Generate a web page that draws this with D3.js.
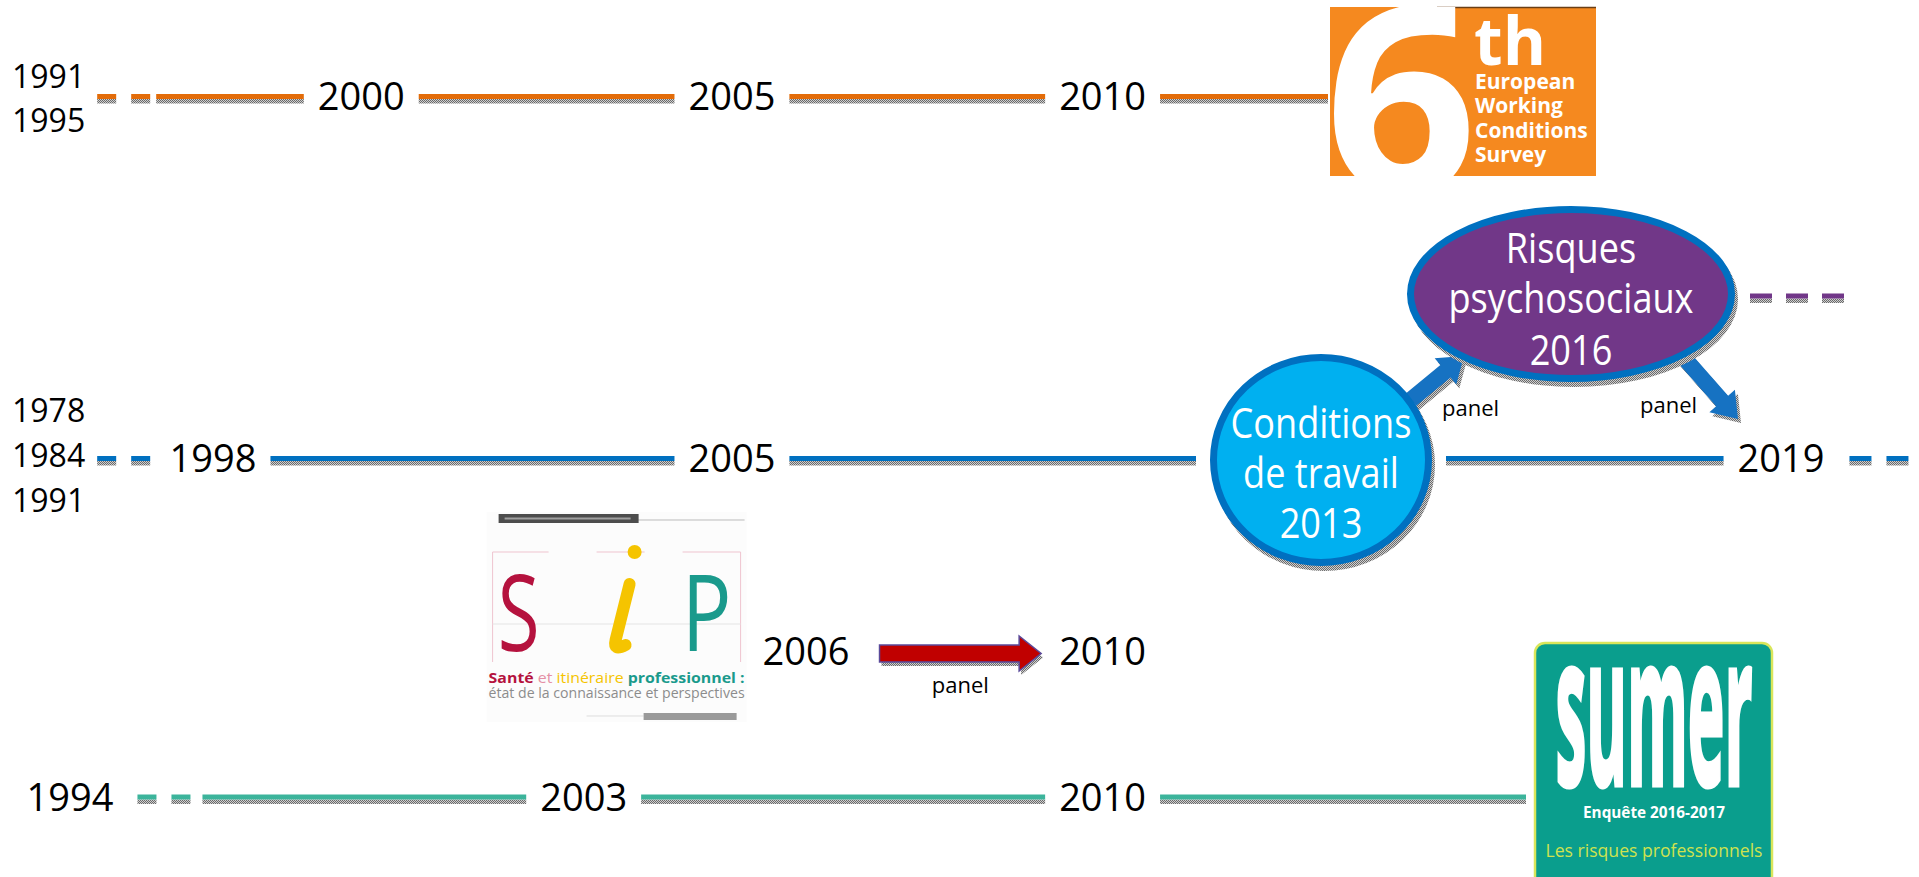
<!DOCTYPE html>
<html>
<head>
<meta charset="utf-8">
<script src="https://cdn.jsdelivr.net/npm/d3@7"></script>
<style>
body { margin: 0; background: #fff; overflow: hidden; }
text { font-family: "Open Sans", sans-serif; }
</style>
</head>
<body>
<div class="chart"></div>
<script>
// === Data ===
const ewcsEarly = ["1991", "1995"];
const ewcsYears = [2000, 2005, 2010];
const ctEarly = ["1978", "1984", "1991"];
const ctYears = [1998, 2005, 2019];
const ctWaves = [
    {year: 2013, lines: ["Conditions", "de travail", "2013"]},
    {year: 2016, lines: ["Risques", "psychosociaux", "2016"]}
];
const sipYears = [2006, 2010];
const sumerYears = [1994, 2003, 2010];
const panelLabel = "panel";
const ewcsLogo = ["th", "European", "Working", "Conditions", "Survey"];
const sumerLogo = ["sumer", "Enquête 2016-2017", "Les risques professionnels"];

// === Chart init ===
const width = 1919, height = 877;
const svg = d3.select(".chart").append("svg")
    .attr("width", width)
    .attr("height", height);

const defs = svg.append("defs");
const pat = defs.append("pattern").attr("id", "dots")
    .attr("width", 2).attr("height", 2).attr("patternUnits", "userSpaceOnUse");
pat.append("rect").attr("width", 2).attr("height", 2).attr("fill", "#cfcfcf");
pat.append("rect").attr("width", 1).attr("height", 1).attr("fill", "#6a6a6a");
pat.append("rect").attr("x", 1).attr("y", 1).attr("width", 1).attr("height", 1).attr("fill", "#6a6a6a");

// year scale (early years compressed)
const x = d3.scaleLinear()
    .domain([1994, 1998, 2013, 2019])
    .range([70, 213, 1325, 1781]);
const rowY = d3.scaleOrdinal()
    .domain(["ewcs", "ct", "sip", "sumer"])
    .range([96.5, 458.5, 651, 797]);

const colors = {ewcs: "#E36C09", ct: "#0070C0", sumer: "#3CB49B",
    purple: "#713788", circle: "#00B0F0", red: "#C00000"};

// === helpers ===
function seg(x1, x2, y, color) {
    if (x2 - x1 < 4) return;
    svg.append("rect").attr("x", x1).attr("y", y + 2.5)
        .attr("width", x2 - x1).attr("height", 4.5).attr("fill", "url(#dots)");
    svg.append("rect").attr("x", x1).attr("y", y - 2.5)
        .attr("width", x2 - x1).attr("height", 5).attr("fill", color);
}
function dashes(x0, n, len, gap, y, color) {
    let xx = x0;
    for (let i = 0; i < n; i++) { seg(xx, xx + len, y, color); xx += len + gap; }
    return xx - gap;
}
function yearText(cx, cy, txt, size) {
    const t = svg.append("text").attr("x", cx).attr("y", cy + size * 0.36)
        .attr("text-anchor", "middle").attr("font-size", size).attr("fill", "#000").text(txt);
    const w = t.node().getComputedTextLength();
    return {left: cx - w / 2, right: cx + w / 2};
}
function stack(x0, cy, labels, size, step) {
    let right = x0;
    labels.forEach((s, i) => {
        const t = svg.append("text").attr("x", x0)
            .attr("y", cy + (i - (labels.length - 1) / 2) * step + size * 0.36)
            .attr("font-size", size).attr("fill", "#000").text(s);
        right = Math.max(right, x0 + t.node().getComputedTextLength());
    });
    return right;
}
function chain(edges, y, color, pad) {
    for (let i = 0; i < edges.length - 1; i++) {
        seg(edges[i].right + pad, edges[i + 1].left - pad, y, color);
    }
}
function blockArrow(x1, y1, x2, y2, sw, hw, hl) {
    const dx = x2 - x1, dy = y2 - y1, L = Math.hypot(dx, dy);
    const ux = dx / L, uy = dy / L, nx = -uy, ny = ux;
    const bx = x2 - ux * hl, by = y2 - uy * hl;
    const p = [
        [x1 + nx * sw / 2, y1 + ny * sw / 2], [bx + nx * sw / 2, by + ny * sw / 2],
        [bx + nx * hw / 2, by + ny * hw / 2], [x2, y2],
        [bx - nx * hw / 2, by - ny * hw / 2], [bx - nx * sw / 2, by - ny * sw / 2],
        [x1 - nx * sw / 2, y1 - ny * sw / 2]];
    return p.map(q => q.join(",")).join(" ");
}

// === Row 1 : EWCS ===
const yE = rowY("ewcs");
const logo6 = {x: 1330, y: 7, w: 266, h: 169};
const eStackR = stack(12, yE + 2, ewcsEarly, 32, 44);
const eDashEnd = dashes(eStackR + 12, 2, 19, 15, yE, colors.ewcs);
const eLab = ewcsYears.map(yr => yearText(x(yr), yE, String(yr), 38));
chain([{right: eDashEnd - 8}].concat(eLab).concat([{left: logo6.x + 12}]), yE, colors.ewcs, 14);

const g6 = svg.append("g").attr("transform", `translate(${logo6.x},${logo6.y})`);
g6.append("clipPath").attr("id", "clip6").append("rect").attr("width", logo6.w).attr("height", logo6.h);
g6.append("rect").attr("width", logo6.w).attr("height", logo6.h).attr("fill", "#F5891F");
g6.append("line").attr("x1", 107).attr("x2", logo6.w).attr("y1", 0.5).attr("y2", 0.5)
    .attr("stroke", "#6b3f14").attr("stroke-width", 1.5);
g6.append("g").attr("clip-path", "url(#clip6)")
    .append("text")
    .attr("transform", "translate(71,186) scale(1.02,1)")
    .attr("text-anchor", "middle").attr("font-family", "Liberation Sans")
    .attr("font-weight", "bold").attr("font-size", 262).attr("fill", "#fff").text("6");
g6.append("text").attr("x", 144).attr("y", 58).attr("font-family", "Liberation Sans")
    .attr("font-weight", "bold").attr("font-size", 66).attr("fill", "#fff").text(ewcsLogo[0]);
ewcsLogo.slice(1).forEach((s, i) => {
    g6.append("text").attr("x", 145).attr("y", 82 + i * 24.3).attr("font-family", "Liberation Sans")
        .attr("font-weight", "bold").attr("font-size", 21).attr("fill", "#fff").text(s);
});

// === Row 2 : Conditions de travail ===
const yC = rowY("ct");
const circ = {cx: x(ctWaves[0].year) - 4, cy: yC + 1.5, rx: 111, ry: 106};
const ell = {cx: x(ctWaves[1].year) + 18, cy: 294, rx: 164, ry: 88};

const cStackR = stack(12, yC - 3, ctEarly, 32, 45);
const cDashEnd = dashes(cStackR + 12, 2, 19, 15, yC, colors.ct);
const cLab = ctYears.map(yr => yearText(x(yr), yC, String(yr), 38));
chain([{right: cDashEnd - 8}, cLab[0], cLab[1],
    {left: circ.cx - circ.rx, right: circ.cx + circ.rx}, cLab[2]], yC, colors.ct, 14);
dashes(cLab[2].right + 25, 2, 22, 15, yC, colors.ct);

// panel arrows
const arrows = [
    [circ.cx + 75, circ.cy - 48, ell.cx - 107, ell.cy + 62],
    [ell.cx + 108, ell.cy + 58, ell.cx + 167, ell.cy + 125]
];
arrows.forEach(a => {
    svg.append("polygon").attr("points", blockArrow(a[0] + 3, a[1] + 4, a[2] + 3, a[3] + 4, 16, 34, 24))
        .attr("fill", "url(#dots)");
    svg.append("polygon").attr("points", blockArrow(a[0], a[1], a[2], a[3], 16, 34, 24))
        .attr("fill", "#1672C2");
});
svg.append("text").attr("x", circ.cx + 121).attr("y", circ.cy - 44)
    .attr("font-size", 22).attr("fill", "#000").text(panelLabel);
svg.append("text").attr("x", ell.cx + 69).attr("y", ell.cy + 119)
    .attr("font-size", 22).attr("fill", "#000").text(panelLabel);

// wave bubbles
[[circ, colors.circle, [-22, 28, 78]], [ell, colors.purple, [-31, 19, 71]]].forEach((b, k) => {
    const e = b[0];
    svg.append("ellipse").attr("cx", e.cx + 3).attr("cy", e.cy + 5).attr("rx", e.rx).attr("ry", e.ry)
        .attr("fill", "url(#dots)");
    svg.append("ellipse").attr("cx", e.cx).attr("cy", e.cy).attr("rx", e.rx - 3.5).attr("ry", e.ry - 3.5)
        .attr("fill", b[1]).attr("stroke", colors.ct).attr("stroke-width", 7);
    ctWaves[k].lines.forEach((s, i) => {
        svg.append("text").attr("transform", `translate(${e.cx},${e.cy + b[2][i]}) scale(0.86,1)`)
            .attr("text-anchor", "middle").attr("font-size", 42).attr("font-weight", 500)
            .attr("fill", "#fff").text(s);
    });
});
dashes(ell.cx + ell.rx + 15, 3, 22, 14, ell.cy + 2, colors.purple);

// === Row 3 : SIP ===
const yS = rowY("sip");
const sLab = sipYears.map(yr => yearText(x(yr), yS, String(yr), 38));
const ax1 = sLab[0].right + 30, ax2 = sLab[1].left - 18;
svg.append("polygon").attr("points", blockArrow(ax1 + 2, yS + 6.5, ax2 + 2, yS + 6.5, 17, 35, 22))
    .attr("fill", "url(#dots)");
svg.append("polygon").attr("points", blockArrow(ax1, yS + 2.5, ax2, yS + 2.5, 17, 35, 22))
    .attr("fill", colors.red).attr("stroke", "#5a4a9a").attr("stroke-width", 1.5);
svg.append("text").attr("x", (ax1 + ax2) / 2).attr("y", yS + 42).attr("text-anchor", "middle")
    .attr("font-size", 22).attr("fill", "#000").text(panelLabel);

const sip = {x: sLab[0].left - 276, y: 512, w: 260, h: 210};
const gs = svg.append("g").attr("transform", `translate(${sip.x},${sip.y})`);
gs.append("rect").attr("width", sip.w).attr("height", sip.h).attr("fill", "#fcfcfc");
gs.append("line").attr("x1", 150).attr("x2", 258).attr("y1", 8).attr("y2", 8).attr("stroke", "#bbb");
gs.append("rect").attr("x", 12).attr("y", 2).attr("width", 140).attr("height", 9).attr("fill", "#4d4d4d");
gs.append("rect").attr("x", 18).attr("y", 5.5).attr("width", 126).attr("height", 2).attr("fill", "#a0a0a0");
gs.append("path").attr("d", "M6,150 V40 H62 M110,40 H158 M196,40 H254 V150")
    .attr("fill", "none").attr("stroke", "#efc4cf").attr("stroke-width", 1);
gs.append("line").attr("x1", 6).attr("x2", 254).attr("y1", 112).attr("y2", 112).attr("stroke", "#e4e4e4");
gs.append("text").attr("transform", "translate(32,139) scale(0.72,1)").attr("text-anchor", "middle")
    .attr("font-size", 106).attr("fill", "#B5123E").text("S");
gs.append("path").attr("d", "M143,72 L129,128 Q126,140 139,133")
    .attr("fill", "none").attr("stroke", "#F5C400").attr("stroke-width", 12).attr("stroke-linecap", "round");
gs.append("circle").attr("cx", 148).attr("cy", 40).attr("r", 7).attr("fill", "#F5C400");
gs.append("text").attr("transform", "translate(220,139) scale(0.78,1)").attr("text-anchor", "middle")
    .attr("font-size", 106).attr("fill", "#1A9A8C").text("P");
const l1 = gs.append("text").attr("x", 2).attr("y", 171).attr("font-size", 15)
    .attr("textLength", 256).attr("lengthAdjust", "spacingAndGlyphs");
l1.append("tspan").attr("fill", "#B5123E").attr("font-weight", "bold").text("Santé");
l1.append("tspan").attr("fill", "#E590A5").text(" et ");
l1.append("tspan").attr("fill", "#F5C400").text("itinéraire");
l1.append("tspan").attr("fill", "#1A9A8C").attr("font-weight", "bold").text(" professionnel :");
gs.append("text").attr("x", 2).attr("y", 186).attr("font-size", 14).attr("fill", "#8c8c8c")
    .attr("textLength", 256).attr("lengthAdjust", "spacingAndGlyphs")
    .text("état de la connaissance et perspectives");
gs.append("line").attr("x1", 100).attr("x2", 157).attr("y1", 204).attr("y2", 204).attr("stroke", "#ddd");
gs.append("rect").attr("x", 157).attr("y", 201).attr("width", 93).attr("height", 7).attr("fill", "#9a9a9a");

// === Row 4 : SUMER ===
const yU = rowY("sumer");
const sumer = {x: 1535, y: 643, w: 237, h: 250};
const uLab = sumerYears.map(yr => yearText(x(yr), yU, String(yr), 38));
const uDashEnd = dashes(uLab[0].right + 24, 2, 19, 15, yU, colors.sumer);
chain([{right: uDashEnd - 2}].concat(uLab.slice(1)).concat([{left: sumer.x + 5}]), yU, colors.sumer, 14);

const gu = svg.append("g").attr("transform", `translate(${sumer.x},${sumer.y})`);
gu.append("rect").attr("width", sumer.w).attr("height", sumer.h).attr("rx", 10)
    .attr("fill", "#0A9E8D").attr("stroke", "#D9E65B").attr("stroke-width", 2.5);
gu.append("text").attr("transform", "translate(119,142) scale(1,3.4)").attr("text-anchor", "middle")
    .attr("font-family", "Liberation Sans").attr("font-weight", "bold").attr("font-size", 62)
    .attr("fill", "#fff").attr("stroke", "#fff").attr("stroke-width", 1.5).text(sumerLogo[0]);
gu.append("text").attr("x", 119).attr("y", 175).attr("text-anchor", "middle")
    .attr("font-family", "Liberation Sans").attr("font-weight", "bold").attr("font-size", 16)
    .attr("fill", "#fff").attr("textLength", 142).attr("lengthAdjust", "spacingAndGlyphs").text(sumerLogo[1]);
gu.append("text").attr("x", 119).attr("y", 214).attr("text-anchor", "middle")
    .attr("font-family", "Liberation Sans").attr("font-size", 19)
    .attr("fill", "#CFE24F").attr("textLength", 217).attr("lengthAdjust", "spacingAndGlyphs").text(sumerLogo[2]);
</script>
</body>
</html>
